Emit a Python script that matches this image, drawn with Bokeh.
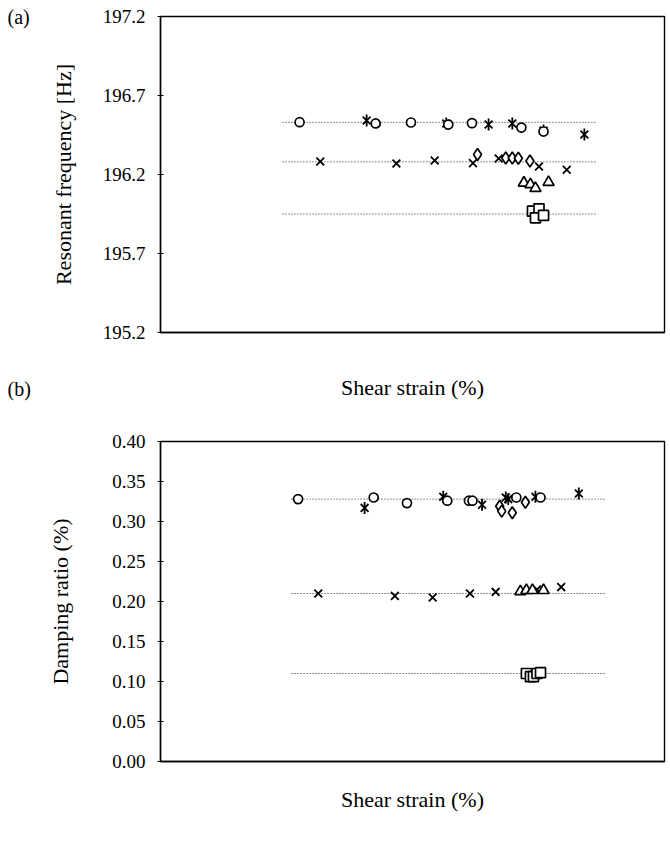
import math
from bokeh.plotting import figure
from bokeh.layouts import column, row
from bokeh.models import Range1d, FixedTicker, PrintfTickFormatter, Label
from bokeh.embed import file_html
from bokeh.resources import INLINE

FONT = "Liberation Serif"

# x: relative position along the (unlabelled) shear strain axis, 0-100
# ---- (a) Resonant frequency [Hz]
a_circle_x = [27.6, 42.7, 49.7, 57.1, 61.8, 71.6, 76.0]
a_circle_y = [196.531, 196.523, 196.529, 196.516, 196.525, 196.497, 196.472]
a_star_x = [40.9, 56.7, 65.1, 69.8, 76.0, 84.1]
a_star_y = [196.542, 196.523, 196.516, 196.523, 196.478, 196.453]
a_cross_x = [31.7, 46.8, 54.4, 62.0, 67.1, 75.1, 80.6]
a_cross_y = [196.282, 196.270, 196.289, 196.272, 196.301, 196.251, 196.230]
a_diamond_x = [62.9, 68.5, 69.8, 71.0, 73.3]
a_diamond_y = [196.327, 196.305, 196.305, 196.303, 196.285]
a_tri_x = [72.1, 73.4, 74.4, 77.0]
a_tri_y = [196.147, 196.137, 196.113, 196.151]
a_sq_x = [73.8, 75.1, 74.4, 76.0]
a_sq_y = [195.968, 195.983, 195.926, 195.941]
a_ref_x = [24.2, 86.3]
a_ref_levels = [196.53, 196.28, 195.95]
a_ticks = [195.2, 195.7, 196.2, 196.7, 197.2]

# ---- (b) Damping ratio (%)
b_circle_x = [27.3, 42.3, 48.9, 56.9, 61.2, 61.9, 70.6, 75.4]
b_circle_y = [0.328, 0.330, 0.323, 0.326, 0.326, 0.326, 0.330, 0.330]
b_star_x = [40.5, 56.1, 63.8, 68.5, 69.0, 74.4, 83.0]
b_star_y = [0.317, 0.331, 0.321, 0.330, 0.328, 0.331, 0.335]
b_diamond_x = [67.3, 67.7, 69.8, 72.4]
b_diamond_y = [0.319, 0.313, 0.311, 0.324]
b_cross_x = [31.3, 46.5, 54.0, 61.4, 66.5, 74.7, 79.5]
b_cross_y = [0.210, 0.207, 0.205, 0.210, 0.212, 0.215, 0.218]
b_tri_x = [71.4, 72.6, 73.8, 76.0]
b_tri_y = [0.2125, 0.214, 0.214, 0.214]
b_sq_x = [72.6, 73.4, 74.0, 74.7, 75.4]
b_sq_y = [0.110, 0.106, 0.106, 0.110, 0.111]
b_ref_x = [26.0, 88.3]
b_ref_levels = [0.328, 0.210, 0.110]
b_ticks = [0.0, 0.05, 0.10, 0.15, 0.20, 0.25, 0.30, 0.35, 0.40]

panel_labels = ["(a)", "(b)"]


def style(p, ylabel, ticks, fmt, ystand, xstand):
    p.xgrid.visible = False
    p.ygrid.visible = False
    p.outline_line_color = "black"
    p.outline_line_width = 1.4
    p.outline_line_alpha = 1
    p.background_fill_color = "white"
    p.border_fill_color = "white"
    ax = p.yaxis[0]
    ax.ticker = FixedTicker(ticks=ticks, minor_ticks=[])
    ax.formatter = PrintfTickFormatter(format=fmt)
    ax.axis_label = ylabel
    ax.axis_label_text_font = FONT
    ax.axis_label_text_font_size = "22px"
    ax.axis_label_text_font_style = "normal"
    ax.axis_label_text_color = "black"
    ax.axis_label_standoff = ystand
    ax.major_label_text_font = FONT
    ax.major_label_text_font_size = "19px"
    ax.major_label_text_color = "black"
    ax.major_label_standoff = 12
    ax.major_tick_in = 3
    ax.major_tick_out = 3
    ax.major_tick_line_color = "black"
    ax.axis_line_color = "black"
    ax.axis_line_width = 1.4
    bx = p.xaxis[0]
    bx.ticker = FixedTicker(ticks=[], minor_ticks=[])
    bx.axis_label = "Shear strain (%)"
    bx.axis_label_text_font = FONT
    bx.axis_label_text_font_size = "22px"
    bx.axis_label_text_font_style = "normal"
    bx.axis_label_text_color = "black"
    bx.axis_label_standoff = xstand
    bx.axis_line_color = "black"
    bx.axis_line_width = 1.4
    bx.major_tick_line_color = None
    bx.minor_tick_line_color = None


def draw(p, ref_x, levels, cx, cy, sx, sy, xx, xy, dx, dy, tx, ty, qx, qy):
    for lv in levels:
        p.line(ref_x, [lv, lv], line_color="#222222", line_width=1, line_dash="1 2")
    kw = dict(line_color="black", line_width=1.7, fill_color="white")
    p.scatter(xx, xy, marker="x", size=11, line_color="black", line_width=1.8)
    p.scatter(sx, sy, marker="x", size=11, line_color="black", line_width=1.8)
    p.scatter(sx, sy, marker="dash", angle=math.pi / 2, size=12, line_color="black", line_width=1.8)
    p.scatter(dx, dy, marker="diamond", size=12, **kw)
    p.scatter(tx, ty, marker="triangle", size=11, **kw)
    p.scatter(qx, qy, marker="square", size=10, **kw)
    p.scatter(cx, cy, marker="circle", size=9, **kw)


# narrow full-height strip at the left holding the panel letters
side = figure(width=40, height=841, output_backend="svg", toolbar_location=None,
              x_range=Range1d(0, 40), y_range=Range1d(841, 0),
              x_axis_type=None, y_axis_type=None,
              min_border=0, min_border_left=0, min_border_right=0,
              min_border_top=0, min_border_bottom=0)
side.outline_line_color = None
side.xgrid.visible = False
side.ygrid.visible = False
side.add_layout(Label(x=7, y=16, text=panel_labels[0], text_font=FONT,
                      text_font_size="20px", text_color="black", text_baseline="alphabetic"))
side.add_layout(Label(x=7, y=388, text=panel_labels[1], text_font=FONT,
                      text_font_size="20px", text_color="black", text_baseline="alphabetic"))

pa = figure(width=630, height=405, output_backend="svg", toolbar_location=None,
            x_range=Range1d(0, 100), y_range=Range1d(195.2, 197.2),
            min_border_left=120, min_border_right=6, min_border_top=16, min_border_bottom=73)
style(pa, "Resonant frequency [Hz]", a_ticks, "%.1f", 24, 42)
draw(pa, a_ref_x, a_ref_levels, a_circle_x, a_circle_y, a_star_x, a_star_y,
     a_cross_x, a_cross_y, a_diamond_x, a_diamond_y, a_tri_x, a_tri_y, a_sq_x, a_sq_y)

pb = figure(width=630, height=436, output_backend="svg", toolbar_location=None,
            x_range=Range1d(0, 100), y_range=Range1d(0.0, 0.40),
            min_border_left=120, min_border_right=5, min_border_top=36, min_border_bottom=80)
style(pb, "Damping ratio (%)", b_ticks, "%.2f", 36, 25)
draw(pb, b_ref_x, b_ref_levels, b_circle_x, b_circle_y, b_star_x, b_star_y,
     b_cross_x, b_cross_y, b_diamond_x, b_diamond_y, b_tri_x, b_tri_y, b_sq_x, b_sq_y)

layout = row(side, column(pa, pb, spacing=0), spacing=0)
open("out.html", "w").write(file_html(layout, INLINE))
